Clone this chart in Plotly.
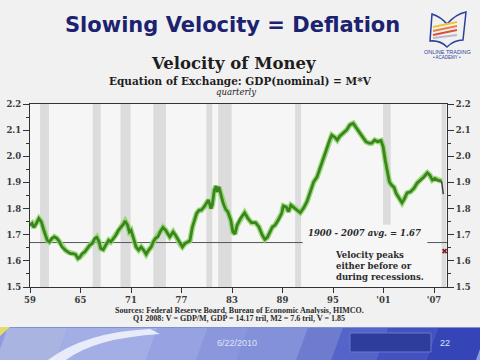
import plotly.graph_objects as go

# ---------------- data ----------------
years = [1959.0, 1959.25, 1959.45, 1959.7, 1960.05, 1960.35, 1960.7, 1961.05, 1961.3, 1961.6,
         1961.9, 1962.2, 1962.5, 1962.8, 1963.2, 1963.5, 1963.8, 1964.1, 1964.4, 1964.7,
         1964.9, 1965.2, 1965.5, 1965.8, 1966.1, 1966.4, 1966.7, 1966.95, 1967.2, 1967.4,
         1967.7, 1968.0, 1968.35, 1968.6, 1968.9, 1969.2, 1969.5, 1969.85, 1970.1, 1970.3,
         1970.6, 1970.8, 1971.0, 1971.3, 1971.6, 1971.9, 1972.2, 1972.5, 1972.8, 1973.1,
         1973.4, 1973.65, 1973.9, 1974.2, 1974.45, 1974.8, 1975.1, 1975.6, 1976.0, 1976.3,
         1976.6, 1976.9, 1977.1, 1977.4, 1977.7, 1978.0, 1978.3, 1978.5, 1978.8, 1979.1,
         1979.35, 1979.7, 1980.0, 1980.2, 1980.5, 1980.65, 1980.9, 1981.1, 1981.25, 1981.45,
         1981.65, 1981.95, 1982.25, 1982.5, 1982.85, 1983.1, 1983.35, 1983.6, 1984.0, 1984.5,
         1984.9, 1985.3, 1985.8, 1986.2, 1986.6, 1986.9, 1987.2, 1987.55, 1987.8, 1988.1,
         1988.5, 1988.9, 1989.1, 1989.45, 1989.7, 1990.0, 1990.3, 1990.7, 1991.1, 1991.5,
         1991.9, 1992.3, 1992.7, 1993.1, 1993.4, 1993.8, 1994.2, 1994.6, 1994.85, 1995.25,
         1995.5, 1995.8, 1996.2, 1996.6, 1997.0, 1997.4, 1997.8, 1998.2, 1998.6, 1998.9,
         1999.3, 1999.6, 1999.95, 2000.3, 2000.7, 2000.95, 2001.2, 2001.45, 2001.7, 2001.95,
         2002.25, 2002.5, 2002.9, 2003.2, 2003.5, 2003.8, 2004.2, 2004.6, 2005.0, 2005.4,
         2005.8, 2006.2, 2006.5, 2006.8, 2007.1, 2007.4, 2007.7, 2007.9]
velocity = [1.735, 1.743, 1.728, 1.740, 1.762, 1.749, 1.711, 1.679, 1.672, 1.686,
            1.692, 1.686, 1.673, 1.653, 1.641, 1.634, 1.628, 1.628, 1.625, 1.609,
            1.613, 1.628, 1.634, 1.647, 1.660, 1.666, 1.686, 1.690, 1.673, 1.647,
            1.643, 1.660, 1.679, 1.673, 1.686, 1.698, 1.717, 1.730, 1.740, 1.753,
            1.736, 1.711, 1.717, 1.686, 1.653, 1.641, 1.653, 1.641, 1.625, 1.641,
            1.653, 1.673, 1.686, 1.692, 1.711, 1.728, 1.718, 1.692, 1.711, 1.698,
            1.679, 1.660, 1.653, 1.666, 1.673, 1.677, 1.730, 1.749, 1.782, 1.794,
            1.794, 1.807, 1.820, 1.833, 1.800, 1.813, 1.871, 1.886, 1.864, 1.883,
            1.858, 1.820, 1.797, 1.788, 1.756, 1.711, 1.703, 1.736, 1.762, 1.784,
            1.762, 1.746, 1.746, 1.730, 1.698, 1.682, 1.690, 1.717, 1.730, 1.736,
            1.756, 1.782, 1.810, 1.806, 1.788, 1.813, 1.806, 1.794, 1.784, 1.802,
            1.826, 1.864, 1.902, 1.921, 1.947, 1.985, 2.024, 2.062, 2.081, 2.072,
            2.062, 2.077, 2.088, 2.100, 2.120, 2.126, 2.107, 2.088, 2.069, 2.056,
            2.050, 2.050, 2.062, 2.056, 2.060, 2.037, 1.985, 1.941, 1.902, 1.890,
            1.881, 1.858, 1.835, 1.822, 1.839, 1.860, 1.864, 1.877, 1.898, 1.909,
            1.921, 1.937, 1.928, 1.909, 1.915, 1.909, 1.906, 1.905]
latest_years = [2007.9, 2008.1]
latest_values = [1.905, 1.855]
marker_year = [2008.25]
marker_value = [1.637]

recession_start = [1960.2, 1966.45, 1969.75, 1973.65, 1979.95, 1981.35, 1990.5, 2000.95, 2007.9]
recession_end = [1961.25, 1967.4, 1970.95, 1975.15, 1980.65, 1982.95, 1991.2, 2001.85, 2008.45]
long_run_avg = 1.67

x_tick_years = [1959, 1965, 1971, 1977, 1983, 1989, 1995, 2001, 2007]
x_tick_labels = ["59", "65", "71", "77", "83", "89", "95", "'01", "'07"]
y_tick_values = [1.5, 1.6, 1.7, 1.8, 1.9, 2.0, 2.1, 2.2]
y_tick_labels = ["1.5", "1.6", "1.7", "1.8", "1.9", "2.0", "2.1", "2.2"]

# ---------------- layout helpers ----------------
W, H = 480, 360
L, R, T, B = 30, 33, 104, 73
PW, PH = W - L - R, H - T - B
PAPER = "#f1f1f1"
PLOT = "#f6f6f6"
SERIF = "DejaVu Serif"


def fx(px):
    return (px - L) / PW


def fy(py):
    return (H - B - py) / PH


def poly(points, color, line_color=None, lw=0, layer="above"):
    d = "M " + " L ".join(f"{fx(a):.5f},{fy(b):.5f}" for a, b in points) + " Z"
    return dict(type="path", xref="paper", yref="paper", path=d, fillcolor=color,
                line=dict(color=line_color or color, width=lw), layer=layer)


fig = go.Figure()

# glow + main line
fig.add_trace(go.Scatter(x=years, y=velocity, mode="lines",
                         line=dict(color="rgba(140,215,100,0.85)", width=5.5),
                         hoverinfo="skip", showlegend=False))
fig.add_trace(go.Scatter(x=years, y=velocity, mode="lines",
                         line=dict(color="#3b8420", width=2.8),
                         showlegend=False))
fig.add_trace(go.Scatter(x=latest_years, y=latest_values, mode="lines",
                         line=dict(color="#404040", width=1.5), showlegend=False))
fig.add_trace(go.Scatter(x=marker_year, y=marker_value, mode="markers",
                         marker=dict(symbol="x-thin", size=4,
                                     line=dict(color="#8b1a2a", width=1.8)),
                         showlegend=False, hoverinfo="skip"))
# invisible trace to activate the right axis
fig.add_trace(go.Scatter(x=[years[0]], y=[velocity[0]], yaxis="y2", mode="lines",
                         line=dict(width=0), showlegend=False, hoverinfo="skip"))

shapes = []
for s, e in zip(recession_start, recession_end):
    shapes.append(dict(type="rect", xref="x", yref="paper", x0=s, x1=e, y0=0, y1=1,
                       fillcolor="#dcdcdc", line=dict(width=0), layer="below"))
# plain box behind the annotation text
shapes.append(dict(type="rect", xref="x", yref="y", x0=1991.4, x1=2006.2, y0=1.5, y1=1.738,
                   fillcolor=PLOT, line=dict(width=0), layer="below"))
shapes.append(dict(type="line", xref="paper", yref="y", x0=0, x1=1,
                   y0=long_run_avg, y1=long_run_avg,
                   line=dict(color="#555555", width=1), layer="below"))

# footer band (slide decoration)
shapes.append(poly([(0, 327), (480, 327), (480, 360), (0, 360)], "#8e9bdc"))
bands = [
    (0, 60, "#aab4e0"), (60, 150, "#a3aee6"), (150, 200, "#96a2e2"),
    (200, 240, "#8a97dc"), (240, 300, "#8391da"), (300, 335, "#6d7ccf"),
    (335, 380, "#5464c8"), (380, 430, "#4352c0"), (430, 480, "#3545b8"),
]
for a, b, c in bands:
    shapes.append(poly([(a + 8, 327), (b + 8, 327), (b - 4, 360), (a - 4, 360)], c))
shapes.append(poly([(0, 327), (480, 327), (480, 328), (0, 328)], "#8090d0"))
shapes.append(poly([(0, 327), (10, 327), (0, 336)], "#e4dc6a"))
# white swoosh
shapes.append(dict(type="path", xref="paper", yref="paper",
                   path=f"M {fx(48):.5f},{fy(360):.5f} Q {fx(85):.5f},{fy(332):.5f} {fx(150):.5f},{fy(329):.5f} "
                        f"L {fx(160):.5f},{fy(334):.5f} Q {fx(95):.5f},{fy(338):.5f} {fx(66):.5f},{fy(360):.5f} Z",
                   fillcolor="rgba(255,255,255,0.75)", line=dict(width=0)))
shapes.append(poly([(350, 333), (431, 333), (431, 352), (350, 352)], "#2e3c9c", "#6a78c8", 1))

# logo (slide decoration)
shapes.append(dict(type="path", xref="paper", yref="paper",
                   path=f"M {fx(432):.5f},{fy(14):.5f} Q {fx(441):.5f},{fy(17):.5f} {fx(447):.5f},{fy(24):.5f} "
                        f"Q {fx(456):.5f},{fy(14):.5f} {fx(466):.5f},{fy(12):.5f} L {fx(463):.5f},{fy(40):.5f} "
                        f"Q {fx(454):.5f},{fy(40):.5f} {fx(447):.5f},{fy(47):.5f} Q {fx(440):.5f},{fy(40):.5f} {fx(430):.5f},{fy(41):.5f} Z",
                   fillcolor="rgba(255,255,255,0)", line=dict(color="#2d3f9a", width=1.5)))
for (ya, yb, c) in [(27, 22, "#f2c23a"), (31, 26, "#e8843a"), (35, 30, "#d9503a"), (38, 35, "#b9b9c9")]:
    shapes.append(dict(type="line", xref="paper", yref="paper", x0=fx(433), y0=fy(ya),
                       x1=fx(457), y1=fy(yb), line=dict(color=c, width=1.8)))

annotations = [
    dict(text="<b>Slowing Velocity = Deflation</b>", x=fx(232), y=fy(25), xref="paper", yref="paper",
         showarrow=False, font=dict(family="DejaVu Sans", size=21, color="#1c2170"),
         xanchor="center", yanchor="middle"),
    dict(text="ONLINE TRADING", x=fx(447), y=fy(52), xref="paper", yref="paper", showarrow=False,
         font=dict(family="Liberation Sans Narrow, Liberation Sans", size=5.5, color="#2d3f9a"),
         xanchor="center", yanchor="middle"),
    dict(text="• ACADEMY •", x=fx(447), y=fy(58), xref="paper", yref="paper", showarrow=False,
         font=dict(family="Liberation Sans", size=4.5, color="#2d3f9a"),
         xanchor="center", yanchor="middle"),
    dict(text="<b>Velocity of Money</b>", x=fx(233), y=fy(64), xref="paper", yref="paper",
         showarrow=False, font=dict(family=SERIF, size=16.5, color="#1e1e1e"),
         xanchor="center", yanchor="middle"),
    dict(text="<b>Equation of Exchange: GDP(nominal) = M*V</b>", x=fx(240), y=fy(80.5), xref="paper",
         yref="paper", showarrow=False, font=dict(family=SERIF, size=10.5, color="#1e1e1e"),
         xanchor="center", yanchor="middle"),
    dict(text="<i>quarterly</i>", x=fx(236), y=fy(91.5), xref="paper", yref="paper",
         showarrow=False, font=dict(family=SERIF, size=8.5, color="#1e1e1e"),
         xanchor="center", yanchor="middle"),
    dict(text="<b><i>1900 - 2007 avg. = 1.67</i></b>", x=fx(364), y=fy(233), xref="paper",
         yref="paper", showarrow=False, font=dict(family=SERIF, size=8.5, color="#2a2a2a"),
         xanchor="center", yanchor="middle"),
    dict(text="<b>Velocity peaks<br>either before or<br>during recessions.</b>", x=fx(333), y=fy(266),
         xref="paper", yref="paper", showarrow=False, align="left",
         font=dict(family=SERIF, size=8.5, color="#2a2a2a"), xanchor="left", yanchor="middle"),
    dict(text="<b>Sources: Federal Reserve Board, Bureau of Economic Analysis, HIMCO.</b>",
         x=fx(239), y=fy(310), xref="paper", yref="paper", showarrow=False,
         font=dict(family="Liberation Serif", size=8, color="#2a2a2a"),
         xanchor="center", yanchor="middle"),
    dict(text="<b>Q1 2008: V = GDP/M, GDP = 14.17 tril, M2 = 7.6 tril, V = 1.85</b>",
         x=fx(239), y=fy(318.5), xref="paper", yref="paper", showarrow=False,
         font=dict(family="Liberation Serif", size=8, color="#2a2a2a"),
         xanchor="center", yanchor="middle"),
    dict(text="6/22/2010", x=fx(237), y=fy(343), xref="paper", yref="paper", showarrow=False,
         font=dict(family="Liberation Sans", size=9, color="#dfe3f7"),
         xanchor="center", yanchor="middle"),
    dict(text="22", x=fx(445), y=fy(343), xref="paper", yref="paper", showarrow=False,
         font=dict(family="Liberation Sans", size=9, color="#dfe3f7"),
         xanchor="center", yanchor="middle"),
]

tickfont = dict(family=SERIF, size=8.5, color="#3a3a3a", weight="bold")
fig.update_layout(
    width=W, height=H,
    margin=dict(l=L, r=R, t=T, b=B, pad=0, autoexpand=False),
    paper_bgcolor=PAPER, plot_bgcolor=PLOT,
    showlegend=False,
    xaxis=dict(range=[1959, 2008.54], tickmode="array", tickvals=x_tick_years,
               ticktext=x_tick_labels, ticks="outside", ticklen=5, tickwidth=1.2,
               tickcolor="#333333", showline=True, linecolor="#333333", linewidth=1.2,
               mirror=True, showgrid=False, zeroline=False, tickfont=tickfont,
               fixedrange=True, automargin=False),
    yaxis=dict(range=[1.5, 2.2], tickmode="array", tickvals=y_tick_values, ticktext=y_tick_labels,
               ticks="outside", ticklen=6, tickwidth=1.2, tickcolor="#333333",
               minor=dict(dtick=0.05, tick0=1.5, ticks="outside", ticklen=3, tickcolor="#333333",
                          showgrid=False),
               showline=True, linecolor="#333333", linewidth=1.2, showgrid=False,
               zeroline=False, tickfont=tickfont, fixedrange=True, automargin=False),
    yaxis2=dict(range=[1.5, 2.2], overlaying="y", side="right", tickmode="array",
                tickvals=y_tick_values, ticktext=y_tick_labels, ticks="outside", ticklen=6,
                tickwidth=1.2, tickcolor="#333333",
                minor=dict(dtick=0.05, tick0=1.5, ticks="outside", ticklen=3, tickcolor="#333333",
                           showgrid=False),
                showline=True, linecolor="#333333", linewidth=1.2, showgrid=False,
                zeroline=False, tickfont=tickfont, fixedrange=True, automargin=False),
    shapes=shapes,
    annotations=annotations,
)

fig.write_html("out.html", config=dict(displayModeBar=False),
               post_script="document.body.style.margin='0';document.body.style.overflow='hidden';")
